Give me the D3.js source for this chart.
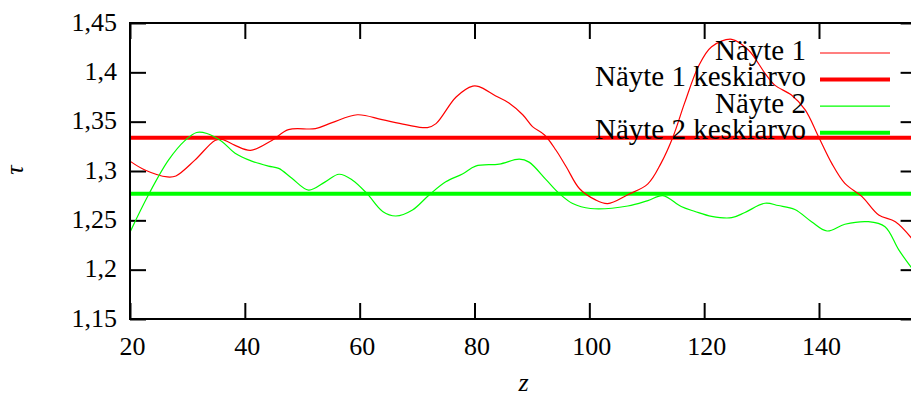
<!DOCTYPE html>
<html><head><meta charset="utf-8">
<script src="https://cdn.jsdelivr.net/npm/d3@7"></script>
<style>
html,body{margin:0;padding:0;background:#fff;}
svg{display:block;}
svg text{font-family:'Liberation Serif','DejaVu Serif',serif;}
</style></head>
<body>
<svg id="c" width="911" height="396"></svg>
<script>
// ---- data ----
const seriesNames = ["Näyte 1", "Näyte 1 keskiarvo", "Näyte 2", "Näyte 2 keskiarvo"];
const z1 = [20,22.6,26.5,28,31.3,34.8,36,38.3,41,44.7,47.6,52.3,55.2,59.6,63.9,68,71.8,73.3,76.8,79.7,80.8,83.7,86,88.4,90.1,92.2,94.2,96,98.3,101,103.2,106.7,110.2,112.5,114.6,116.6,119,121.3,124.8,127.7,130.6,132.3,135.2,137.6,139.9,142.2,144.5,147.5,150.4,153.3,156.4];
const v1 = [1.310,1.301,1.294,1.295,1.311,1.331,1.332,1.326,1.321,1.331,1.342,1.343,1.349,1.357,1.352,1.347,1.344,1.348,1.375,1.386,1.3855,1.376,1.369,1.357,1.345,1.3365,1.321,1.304,1.282,1.271,1.267,1.276,1.287,1.308,1.335,1.369,1.406,1.426,1.4335,1.4226,1.399,1.387,1.377,1.362,1.335,1.308,1.2875,1.274,1.2554,1.2486,1.230];
const z2 = [20,23.2,26.7,29.6,31.6,33.4,36,38.3,41.2,44.1,45.9,48.2,51.1,54,56.4,58.7,61.3,64,66.3,69.2,72.1,75,77.9,80.2,84.3,87.8,89.5,92.5,94.8,97.1,100.2,106.7,110.2,112.8,116,118.4,121.3,124.8,127.1,130.6,132.9,135.8,138.7,141.4,144.5,148.6,151.5,153.9,156.4];
const v2 = [1.238,1.2757,1.311,1.331,1.339,1.338,1.330,1.318,1.310,1.305,1.3027,1.2926,1.2807,1.289,1.2967,1.291,1.277,1.259,1.2544,1.2605,1.2757,1.289,1.297,1.305,1.307,1.312,1.309,1.291,1.277,1.267,1.262,1.2645,1.270,1.275,1.264,1.259,1.254,1.2527,1.258,1.2673,1.265,1.261,1.2486,1.2392,1.246,1.2486,1.2435,1.220,1.1997];
const means = [1.3338, 1.2770];
const xTicks = [20,40,60,80,100,120,140];
const yTicks = [1.15,1.2,1.25,1.3,1.35,1.4,1.45];
const xDomain = [20,157];
const yDomain = [1.15,1.45];

// ---- layout ----
const FF = "'Liberation Serif','DejaVu Serif',serif";
const L=130, T=23, R=916.6, B=319;
const svg = d3.select("#c");
const x = d3.scaleLinear().domain(xDomain).range([L,R]);
const y = d3.scaleLinear().domain(yDomain).range([B,T]);
const loc = d3.formatLocale({decimal:",",thousands:" ",grouping:[3],currency:["",""]});
const fmt = loc.format("~g");
const FS = 26;

svg.append("defs").append("clipPath").attr("id","clip")
  .append("rect").attr("x",L).attr("y",T).attr("width",R-L).attr("height",B-T);

function styleAxis(g){
  g.attr("font-family",FF).attr("font-size",FS);
  g.select(".domain").remove();
  g.selectAll(".tick line").attr("stroke","#000").attr("stroke-width",2);
  g.selectAll("text").attr("font-size",FS).attr("fill","#000").attr("font-family",FF);
}
svg.append("g").attr("transform",`translate(0,${B})`)
  .call(d3.axisBottom(x).tickValues(xTicks).tickFormat(d3.format("d")).tickSizeInner(-16).tickSizeOuter(0).tickPadding(17.5))
  .call(styleAxis).call(g=>g.selectAll("text").attr("dx",2));
svg.append("g").attr("transform",`translate(0,${T})`)
  .call(d3.axisTop(x).tickValues(xTicks).tickFormat("").tickSizeInner(-16).tickSizeOuter(0))
  .call(styleAxis);
svg.append("g").attr("transform",`translate(${L},0)`)
  .call(d3.axisLeft(y).tickValues(yTicks).tickFormat(fmt).tickSizeInner(-16).tickSizeOuter(0).tickPadding(13))
  .call(styleAxis).call(g=>g.selectAll("text").attr("dy","0.27em"));
svg.append("g").attr("transform",`translate(${R},0)`)
  .call(d3.axisRight(y).tickValues(yTicks).tickFormat("").tickSizeInner(-16).tickSizeOuter(0))
  .call(styleAxis);

// data
const plot = svg.append("g").attr("clip-path","url(#clip)");
const line = d3.line().x(d=>x(d[0])).y(d=>y(d[1])).curve(d3.curveCatmullRom.alpha(0.5));
const colors = ["#ff0000","#00ff00"];
means.forEach((m,i)=>{
  plot.append("line").attr("x1",x(xDomain[0])).attr("x2",x(xDomain[1]))
    .attr("y1",y(m)).attr("y2",y(m)).attr("stroke",colors[i]).attr("stroke-width",4);
});
plot.append("path").datum(d3.zip(z1,v1)).attr("d",line).attr("fill","none").attr("stroke",colors[0]).attr("stroke-width",1.2);
plot.append("path").datum(d3.zip(z2,v2)).attr("d",line).attr("fill","none").attr("stroke",colors[1]).attr("stroke-width",1.2);

// border
svg.append("rect").attr("x",L).attr("y",T).attr("width",R-L).attr("height",B-T)
  .attr("fill","none").attr("stroke","#000").attr("stroke-width",2);

// legend
const legStyles = [[colors[0],1.2],[colors[0],4],[colors[1],1.2],[colors[1],4]];
const leg = svg.append("g");
seriesNames.forEach((n,i)=>{
  const yy = 53 + i*26.6;
  leg.append("line").attr("x1",820).attr("x2",890).attr("y1",yy).attr("y2",yy)
    .attr("stroke",legStyles[i][0]).attr("stroke-width",legStyles[i][1]);
  leg.append("text").attr("x",806).attr("y",yy+6.5).attr("text-anchor","end")
    .attr("font-family",FF).attr("font-size",29).attr("fill","#000").text(n);
});

// axis titles
svg.append("text").attr("transform","translate(23,170) rotate(-90)").attr("text-anchor","middle")
  .attr("font-family",FF).attr("font-size",FS).attr("font-style","italic").text("τ");
svg.append("text").attr("x",523.5).attr("y",391).attr("text-anchor","middle")
  .attr("font-family",FF).attr("font-size",FS).attr("font-style","italic").text("z");
</script>
</body></html>
